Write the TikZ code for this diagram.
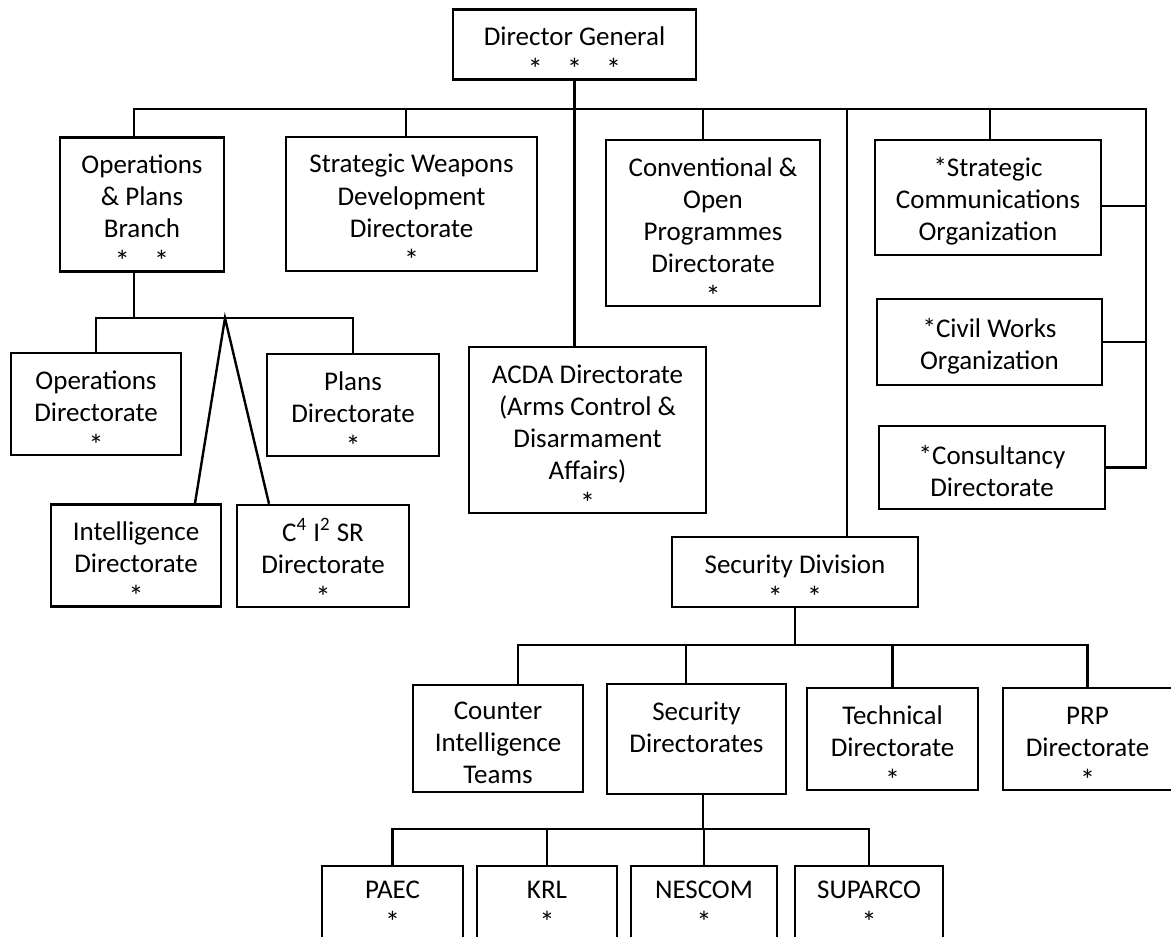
\documentclass[tikz,border=0pt]{standalone}
\usepackage{fontspec}
\setmainfont{Carlito}
\newcommand{\gap}{\hspace{0.9em}}
% invisible struts that push the text down in its box
\newcommand{\tp}{\rule{0pt}{13.5pt}}
\newcommand{\tps}{\rule{0pt}{18pt}}
\newcommand{\st}{\raisebox{-1pt}{\fontsize{15}{16}\selectfont *}}

\begin{document}
\begin{tikzpicture}[x=0.5pt, y=-0.5pt, line width=1.2pt,
  orgbox/.style={draw, align=center, inner sep=0pt, font=\fontsize{13.5}{16}\selectfont},
  wh/.style 2 args={minimum width=#1*0.5pt, minimum height=#2*0.5pt}]

\useasboundingbox (0,0) rectangle (1171,936);

\node[orgbox, wh={243}{67}] (dg) at (574.5,44.5) {\tps Director General\\\st\gap\st\gap\st};

\node[orgbox, wh={164}{133}] (opb) at (142,204.5) {\tps Operations\\\& Plans\\Branch\\\st\gap\st};
\node[orgbox, wh={251}{128}] (swd) at (411.5,204) {\tps Strategic Weapons\\Development\\Directorate\\\st};
\node[orgbox, wh={214}{166}] (cop) at (713,223) {\tps Conventional \&\\Open\\Programmes\\Directorate\\\st};
\node[orgbox, wh={226}{115}] (sco) at (988,197.5) {\tp *Strategic\\Communications\\Organization};
\node[orgbox, wh={225}{86}] (cwo) at (989.5,342) {\tp *Civil Works\\Organization};
\node[orgbox, wh={226}{83}] (cnd) at (992,467.5) {\tp *Consultancy\\Directorate};

\node[orgbox, wh={170}{98}] (opd) at (96,404) {\tps Operations\\Directorate\\\st};
\node[orgbox, wh={172}{98}] (pld) at (353,405) {\tps Plans\\Directorate\\\st};
\node[orgbox, wh={170}{97}] (ind) at (136,555.5) {\tps Intelligence\\Directorate\\\st};
\node[orgbox, wh={172}{98}] (cid) at (323,556) {\tps C\textsuperscript{4} I\textsuperscript{2} SR\\Directorate\\\st};

\node[orgbox, wh={237}{166}] (acda) at (587.5,430) {\tps ACDA Directorate\\(Arms Control \&\\Disarmament\\Affairs)\\\st};
\node[orgbox, wh={246}{68}] (sdv) at (795,572) {\tps Security Division\\\st\gap\st};

\node[orgbox, wh={170}{107}] (cit) at (498,738.5) {\tp Counter\\Intelligence\\Teams};
\node[orgbox, wh={179}{104}] (sdr) at (696.5,739) {\tps Security\\Directorates\\\strut};
\node[orgbox, wh={171}{102}] (tcd) at (892.5,739) {\tps Technical\\Directorate\\\st};
\node[orgbox, wh={169}{102}] (prp) at (1087.5,739) {\tps PRP\\Directorate\\\st};

% labs, cut off by the page edge
\node[orgbox, wh={141}{82}] (paec) at (392.5,907) {PAEC\\\st};
\node[orgbox, wh={140}{82}] (krl) at (547,907) {KRL\\\st};
\node[orgbox, wh={146}{82}] (nescom) at (704,907) {NESCOM\\\st};
\node[orgbox, wh={148}{82}] (suparco) at (869,907) {SUPARCO\\\st};

% main bus
\coordinate (busL) at (134,109);
\coordinate (busR) at (1146,109);
\draw (busL |- opb.north) -- (busL) -- (busR) -- (busR |- cnd.east) -- (cnd.east);
\draw (cwo.east) -- (cwo.east -| busR);
\coordinate (scoR) at ([yshift=-4.25pt]sco.east);
\draw (scoR) -- (scoR -| busR);
\coordinate (swdT) at ([xshift=-2.75pt]swd.north);
\draw (swdT) -- (swdT |- busL);
\coordinate (copT) at ([xshift=-5pt]cop.north);
\draw (copT) -- (copT |- busL);
\coordinate (scoT) at ([xshift=1pt]sco.north);
\draw (scoT) -- (scoT |- busL);
\draw (dg.south) -- (dg.south |- acda.north);
\coordinate (sdvT) at (847,109);
\draw (sdvT) -- (sdvT |- sdv.north);

% operations & plans
\coordinate (apex) at (225,318);
\draw (busL |- opb.south) -- (busL |- apex);
\draw (opd.north) |- (apex) -| (pld.north);
\draw ([xshift=29.5pt]ind.north) -- (apex) -- ([xshift=-27pt]cid.north);

% security division
\coordinate (secbus) at (sdv.south |- 0,645);
\coordinate (citT) at ([xshift=10pt]cit.north);
\coordinate (sdrT) at ([xshift=-5.25pt]sdr.north);
\draw (sdv.south) -- (secbus);
\draw (citT) |- (secbus) -| (prp.north);
\draw (sdrT) -- (sdrT |- secbus);
\draw (tcd.north) -- (tcd.north |- secbus);

\coordinate (sdrB) at ([xshift=3.25pt]sdr.south);
\coordinate (labbus) at (sdrB |- 0,829);
\draw (sdrB) -- (labbus);
\draw (paec.north) |- (labbus) -| (suparco.north);
\draw (krl.north) -- (krl.north |- labbus);
\draw (nescom.north) -- (nescom.north |- labbus);

\end{tikzpicture}
\end{document}
